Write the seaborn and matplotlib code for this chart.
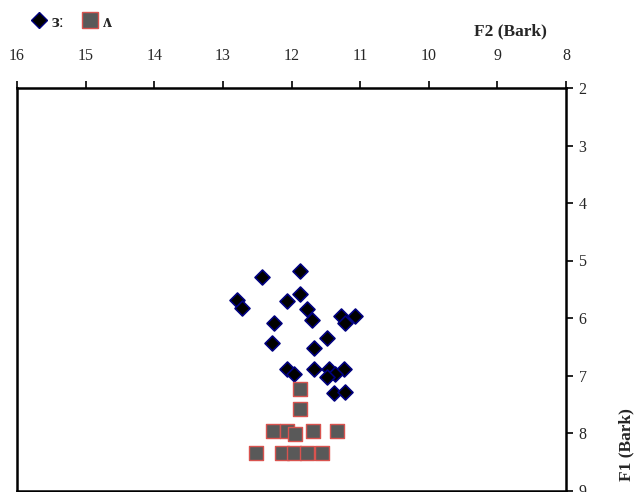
import pandas as pd
import seaborn as sns
import matplotlib.pyplot as plt
from matplotlib.lines import Line2D

# F2 / F1 values (Bark)
er_f2 = [12.43, 11.87, 12.79, 12.72, 11.87, 12.06, 11.77, 11.70, 12.25, 12.28,
         11.48, 11.28, 11.22, 11.07, 11.67, 12.06, 11.96, 11.67, 11.45, 11.23,
         11.36, 11.48, 11.38, 11.22]
er_f1 = [5.29, 5.19, 5.69, 5.83, 5.59, 5.71, 5.85, 6.04, 6.09, 6.44,
         6.34, 5.97, 6.09, 5.97, 6.53, 6.88, 6.98, 6.88, 6.88, 6.88,
         6.97, 7.03, 7.31, 7.28]

uh_f2 = [11.87, 11.87, 12.27, 12.06, 11.95, 11.69, 11.34, 12.52, 12.14, 11.96,
         11.77, 11.55]
uh_f1 = [7.24, 7.59, 7.96, 7.96, 8.01, 7.96, 7.96, 8.34, 8.34, 8.34,
         8.34, 8.34]

labels = ["ɜː", "ʌ"]
x_ticks = [16, 15, 14, 13, 12, 11, 10, 9, 8]
y_ticks = [2, 3, 4, 5, 6, 7, 8, 9]

df = pd.DataFrame({
    "F2": er_f2 + uh_f2,
    "F1": er_f1 + uh_f1,
    "vowel": [labels[0]] * len(er_f2) + [labels[1]] * len(uh_f2),
})

sns.set_style("white")
plt.rcParams["font.family"] = ["Liberation Serif", "DejaVu Serif"]

fig = plt.figure(figsize=(6.34, 4.92), dpi=100)
ax = fig.add_axes([17 / 634, 1 - 490.5 / 492, (566 - 17) / 634, (490.5 - 88) / 492])

sns.scatterplot(data=df[df.vowel == labels[0]], x="F2", y="F1", marker="D", s=58,
                color="black", edgecolor="#000080", linewidth=1.2, ax=ax, legend=False)
sns.scatterplot(data=df[df.vowel == labels[1]], x="F2", y="F1", marker="s", s=110,
                color="#595959", edgecolor="#d9534f", linewidth=1.0, ax=ax, legend=False)

ax.set_xlim(16, 8)
ax.set_ylim(9, 2)
ax.set_xticks(x_ticks)
ax.set_yticks(y_ticks)
ax.xaxis.tick_top()
ax.yaxis.tick_right()
ax.tick_params(axis="both", direction="out", length=5, width=1.2, color="black",
               labelsize=11.5, pad=4)
ax.tick_params(axis="x", pad=12)
for sp in ax.spines.values():
    sp.set_linewidth(1.8)
    sp.set_color("black")
ax.set_xlabel("")
ax.set_ylabel("")

fig.text(510 / 634, 1 - 31 / 492, "F2 (Bark)", fontsize=12.5, fontweight="bold",
         ha="center", va="center")
fig.text(626 / 634, 1 - 445 / 492, "F1 (Bark)", fontsize=12.5, fontweight="bold",
         ha="center", va="center", rotation=90)

handles = [
    Line2D([], [], marker="D", linestyle="", markersize=8, markerfacecolor="black",
           markeredgecolor="#000080"),
    Line2D([], [], marker="s", linestyle="", markersize=11, markerfacecolor="#595959",
           markeredgecolor="#d9534f"),
]
fig.legend(handles, labels, loc="upper left", bbox_to_anchor=(0.025, 1.005), ncol=2,
           frameon=False, prop={"size": 13, "weight": "bold"}, handlelength=0.8,
           handletextpad=0.3, columnspacing=1.0)

fig.savefig("out.png", dpi=100)
